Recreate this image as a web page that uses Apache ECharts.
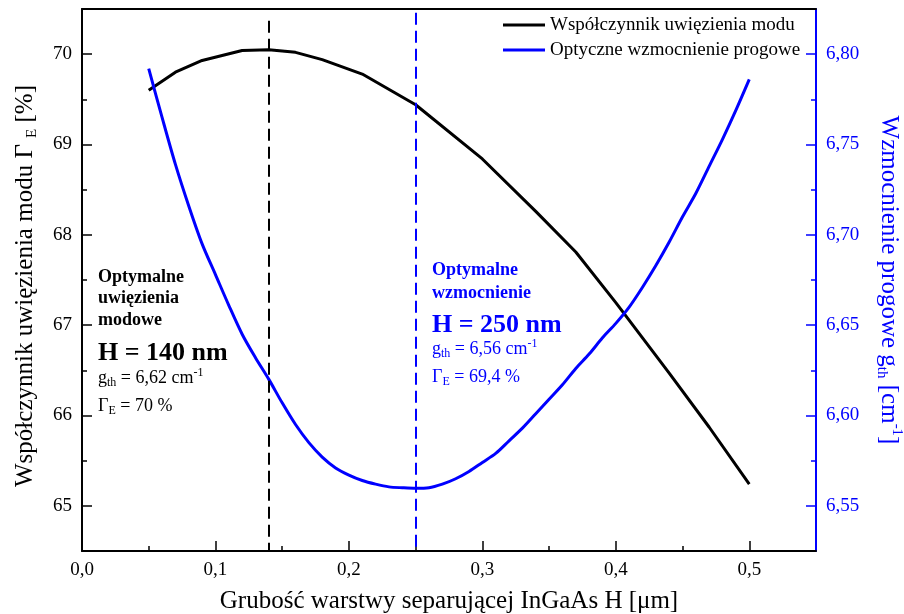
<!DOCTYPE html>
<html>
<head>
<meta charset="utf-8">
<script src="https://cdn.jsdelivr.net/npm/echarts@6/dist/echarts.min.js"></script>
<style>
  html, body { margin: 0; padding: 0; background: #ffffff; }
  #chart { width: 904px; height: 614px; }
</style>
</head>
<body>
<div id="chart"></div>
<script>
// Mode confinement factor Γ_E [%] versus InGaAs separating-layer thickness H [µm]
const thicknessConfinement = [0.05, 0.07, 0.09, 0.12, 0.14, 0.16, 0.18, 0.21, 0.25, 0.30, 0.34, 0.37, 0.40, 0.44, 0.47, 0.50];
const confinementFactor   = [69.60, 69.80, 69.93, 70.04, 70.05, 70.02, 69.94, 69.78, 69.44, 68.84, 68.26, 67.81, 67.25, 66.47, 65.87, 65.24];

// Optical threshold gain g_th [cm^-1] versus the same thickness
const thicknessGain = [0.05, 0.06, 0.07, 0.08, 0.09, 0.10, 0.11, 0.12, 0.13, 0.14, 0.15, 0.16, 0.17, 0.18, 0.19, 0.20,
                       0.21, 0.22, 0.23, 0.24, 0.25, 0.26, 0.27, 0.28, 0.29, 0.30, 0.31, 0.32, 0.33, 0.34, 0.35,
                       0.36, 0.37, 0.38, 0.39, 0.40, 0.41, 0.42, 0.43, 0.44, 0.45, 0.46, 0.47, 0.48, 0.49, 0.50];
const thresholdGain = [6.792, 6.765, 6.739, 6.716, 6.695, 6.678, 6.661, 6.645, 6.632, 6.620, 6.607, 6.595, 6.585, 6.577, 6.571, 6.567,
                       6.564, 6.562, 6.5605, 6.560, 6.5597, 6.560, 6.562, 6.565, 6.569, 6.574, 6.579, 6.586, 6.593, 6.601, 6.609,
                       6.617, 6.626, 6.634, 6.643, 6.651, 6.660, 6.671, 6.683, 6.696, 6.710, 6.723, 6.738, 6.753, 6.769, 6.786];

// Optimum thicknesses marked with dashed lines
const optimumConfinementH = 0.14;
const optimumGainH = 0.25;

// Axis ranges and ticks
const xRange = [0, 0.55];
const xTicks = [0, 0.1, 0.2, 0.3, 0.4, 0.5];
const xMinorTicks = [0.05, 0.15, 0.25, 0.35, 0.45];
const leftRange = [64.5, 70.5];
const leftTicks = [65, 66, 67, 68, 69, 70];
const leftMinorTicks = [65.5, 66.5, 67.5, 68.5, 69.5];
const rightRange = [6.525, 6.825];
const rightTicks = [6.55, 6.60, 6.65, 6.70, 6.75, 6.80];
const rightMinorTicks = [6.575, 6.625, 6.675, 6.725, 6.775];

const FONT = 'Liberation Serif';
const BLUE = '#0000ff';
const BLACK = '#000000';

const pairs = (xs, ys) => xs.map((x, i) => [x, ys[i]]);
const comma = (digits) => (v) => v.toFixed(digits).replace('.', ',');

// Extra axis that only carries the short minor ticks
function minorAxis(position, range, ticks, color) {
  return {
    type: 'value', position: position, min: range[0], max: range[1],
    axisLine: { show: false, onZero: false },
    axisLabel: { show: false },
    splitLine: { show: false },
    axisTick: { show: true, inside: true, length: 5, customValues: ticks, lineStyle: { color: color, width: 1.5 } }
  };
}

const chart = echarts.init(document.getElementById('chart'), null, { renderer: 'canvas' });

const subStyle = (color, size) => ({ fontFamily: FONT, fontSize: size, color: color, verticalAlign: 'bottom', lineHeight: size });
const supStyle = (color, size) => ({ fontFamily: FONT, fontSize: size, color: color, verticalAlign: 'top', lineHeight: size });

// One line of the annotation blocks inside the plot
function noteLine(x, y, text, color, size, bold) {
  return {
    type: 'text', left: x, top: y, silent: true,
    style: {
      text: text, x: 0, y: 0, verticalAlign: 'middle',
      fontFamily: FONT, fontSize: size, fontWeight: bold ? 'bold' : 'normal', fill: color,
      lineHeight: size + 4,
      rich: {
        n: { fontFamily: FONT, fontSize: size, fill: color, color: color, lineHeight: size + 4, verticalAlign: 'middle' },
        sub: { fontFamily: FONT, fontSize: 12, fill: color, color: color, lineHeight: 12, verticalAlign: 'bottom' },
        sup: { fontFamily: FONT, fontSize: 12, fill: color, color: color, lineHeight: 12, verticalAlign: 'top' }
      }
    }
  };
}

const option = {
  animation: false,
  backgroundColor: '#ffffff',
  textStyle: { fontFamily: FONT },
  grid: { left: 82, right: 88, top: 9, bottom: 63, containLabel: false, outerBoundsMode: 'none' },
  legend: {
    orient: 'vertical', left: 503, top: 15, padding: 0,
    icon: 'rect', itemWidth: 42, itemHeight: 3, itemGap: 5,
    textStyle: { fontFamily: FONT, fontSize: 19, color: BLACK, lineHeight: 20 },
    data: ['Współczynnik uwięzienia modu', 'Optyczne wzmocnienie progowe']
  },
  xAxis: [
    {
      type: 'value', position: 'bottom', min: xRange[0], max: xRange[1],
      axisLine: { show: true, onZero: false, lineStyle: { color: BLACK, width: 2 } },
      axisTick: { show: true, inside: true, length: 10, customValues: xTicks, lineStyle: { color: BLACK, width: 1.5 } },
      axisLabel: { show: true, customValues: xTicks, formatter: comma(1), margin: 10,
                   fontFamily: FONT, fontSize: 19, color: BLACK },
      splitLine: { show: false },
      name: 'Grubość warstwy separującej InGaAs H [μm]',
      nameLocation: 'middle', nameGap: 36,
      nameTextStyle: { fontFamily: FONT, fontSize: 25, color: BLACK, lineHeight: 28 }
    },
    minorAxis('bottom', xRange, xMinorTicks, BLACK),
    {
      type: 'value', position: 'top', min: xRange[0], max: xRange[1],
      axisLine: { show: true, onZero: false, lineStyle: { color: BLACK, width: 2 } },
      axisTick: { show: false }, axisLabel: { show: false }, splitLine: { show: false }
    }
  ],
  yAxis: [
    {
      type: 'value', position: 'left', min: leftRange[0], max: leftRange[1],
      axisLine: { show: true, onZero: false, lineStyle: { color: BLACK, width: 2 } },
      axisTick: { show: true, inside: true, length: 10, customValues: leftTicks, lineStyle: { color: BLACK, width: 1.5 } },
      axisLabel: { show: true, customValues: leftTicks, formatter: comma(0), margin: 10,
                   fontFamily: FONT, fontSize: 19, color: BLACK },
      splitLine: { show: false },
      name: 'Współczynnik uwięzienia modu Γ {sub|E} [%]',
      nameLocation: 'middle', nameGap: 42, nameRotate: 90,
      nameTextStyle: { fontFamily: FONT, fontSize: 25, color: BLACK, lineHeight: 30,
                       padding: [0, 12, 0, 0],
                       rich: { sub: subStyle(BLACK, 15) } }
    },
    {
      type: 'value', position: 'right', min: rightRange[0], max: rightRange[1],
      axisLine: { show: true, onZero: false, lineStyle: { color: BLUE, width: 2 } },
      axisTick: { show: true, inside: true, length: 10, customValues: rightTicks, lineStyle: { color: BLUE, width: 1.5 } },
      axisLabel: { show: true, customValues: rightTicks, formatter: comma(2), margin: 10,
                   fontFamily: FONT, fontSize: 19, color: BLUE },
      splitLine: { show: false },
      name: 'Wzmocnienie progowe g{sub|th} [cm{sup|-1}]',
      nameLocation: 'middle', nameGap: 58, nameRotate: -90,
      nameTextStyle: { fontFamily: FONT, fontSize: 25, color: BLUE, lineHeight: 30,
                       rich: { sub: subStyle(BLUE, 15), sup: supStyle(BLUE, 15) } }
    },
    minorAxis('left', leftRange, leftMinorTicks, BLACK),
    minorAxis('right', rightRange, rightMinorTicks, BLUE)
  ],
  series: [
    {
      name: 'Współczynnik uwięzienia modu',
      type: 'line', xAxisIndex: 0, yAxisIndex: 0,
      data: pairs(thicknessConfinement, confinementFactor),
      symbol: 'none', smooth: false, z: 3,
      lineStyle: { color: BLACK, width: 3 },
      itemStyle: { color: BLACK },
      markLine: {
        silent: true, symbol: ['none', 'none'], label: { show: false },
        lineStyle: { color: BLACK, width: 2, type: [12, 6] },
        data: [[{ coord: [optimumConfinementH, 70.37] }, { coord: [optimumConfinementH, leftRange[0]] }]]
      }
    },
    {
      name: 'Optyczne wzmocnienie progowe',
      type: 'line', xAxisIndex: 0, yAxisIndex: 1,
      data: pairs(thicknessGain, thresholdGain),
      symbol: 'none', smooth: 0.3, z: 3,
      lineStyle: { color: BLUE, width: 3 },
      itemStyle: { color: BLUE },
      markLine: {
        silent: true, symbol: ['none', 'none'], label: { show: false },
        lineStyle: { color: BLUE, width: 2, type: [12, 6] },
        data: [[{ coord: [optimumGainH, 6.8229] }, { coord: [optimumGainH, rightRange[0]] }]]
      }
    }
  ],
  graphic: [
    noteLine(98, 266, 'Optymalne', BLACK, 18, true),
    noteLine(98, 287, 'uwięzienia', BLACK, 18, true),
    noteLine(98, 309, 'modowe', BLACK, 18, true),
    noteLine(98, 338, 'H = 140 nm', BLACK, 26, true),
    noteLine(98, 367, '{n|g}{sub|th}{n| = 6,62 cm}{sup|-1}', BLACK, 18, false),
    noteLine(98, 395, '{n|Γ}{sub|E}{n| = 70 %}', BLACK, 18, false),

    noteLine(432, 259, 'Optymalne', BLUE, 18, true),
    noteLine(432, 282, 'wzmocnienie', BLUE, 18, true),
    noteLine(432, 310, 'H = 250 nm', BLUE, 26, true),
    noteLine(432, 338, '{n|g}{sub|th}{n| = 6,56 cm}{sup|-1}', BLUE, 18, false),
    noteLine(432, 366, '{n|Γ}{sub|E}{n| = 69,4 %}', BLUE, 18, false)
  ]
};

chart.setOption(option);
</script>
</body>
</html>
